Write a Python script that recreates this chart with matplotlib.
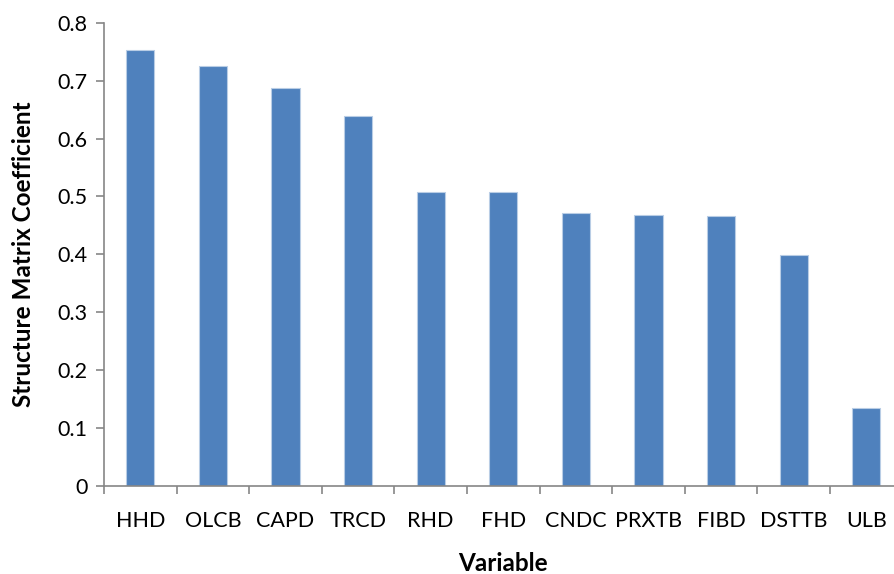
import matplotlib.pyplot as plt
import numpy as np

variables = ["HHD", "OLCB", "CAPD", "TRCD", "RHD", "FHD",
             "CNDC", "PRXTB", "FIBD", "DSTTB", "ULB"]
coefficients = [0.752, 0.726, 0.687, 0.639, 0.507, 0.507,
                0.471, 0.468, 0.467, 0.398, 0.134]

plt.rcParams['font.family'] = ['Lato', 'DejaVu Sans']

fig = plt.figure(figsize=(8.94, 5.74), dpi=100)
ax = fig.add_axes([0.1163, 0.1533, 0.8933, 0.8072])

x = np.arange(len(variables))
ax.bar(x, coefficients, width=0.39, color='#4F81BD',
       edgecolor='#B9CDE5', linewidth=0.8, zorder=2)

ax.set_xlim(-0.5, len(variables) - 0.5)
ax.set_ylim(0, 0.8)
ax.set_yticks(np.arange(0, 0.81, 0.1))
ax.set_yticklabels(['0'] + ['%.1f' % v for v in np.arange(0.1, 0.81, 0.1)])

# category boundaries get the tick marks, names sit between them
ax.set_xticks(np.arange(-0.5, len(variables), 1.0))
ax.set_xticklabels([])
ax.set_xticks(x, minor=True)
ax.set_xticklabels(variables, minor=True)
ax.tick_params(axis='x', which='minor', length=0, pad=18, labelsize=15.5)
ax.tick_params(axis='x', which='major', length=6, width=1.2, color='#868686')
ax.tick_params(axis='y', length=6, width=1.2, color='#868686', labelsize=15.5, pad=6)

for side in ['top', 'right']:
    ax.spines[side].set_visible(False)
for side in ['left', 'bottom']:
    ax.spines[side].set_color('#868686')
    ax.spines[side].set_linewidth(1.2)

ax.set_xlabel('Variable', fontsize=17.5, fontweight='bold', labelpad=15)
ax.set_ylabel('Structure Matrix Coefficient', fontsize=17.5, fontweight='bold', labelpad=16)

fig.savefig('out.png', dpi=100)
